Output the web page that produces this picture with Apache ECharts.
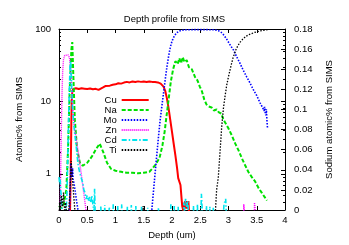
<!DOCTYPE html>
<html><head><meta charset="utf-8">
<script src="https://cdn.jsdelivr.net/npm/echarts@6/dist/echarts.min.js"></script>
<style>html,body{margin:0;padding:0;background:#fff}#c{width:349px;height:245px}</style>
</head><body><div id="c"></div>
<script>
// ---- data (depth in um, value) ----
const seriesNames = ['Cu', 'Na', 'Mo', 'Zn', 'Cd', 'Ti'];
const cu = [[0.17,0.1],[0.195,0.3],[0.205,0.8],[0.212,2],[0.218,5],[0.225,10],[0.235,13.5],[0.25,14.8],[0.3,15.2],[0.35,14.8],[0.4,15.2],[0.45,15],[0.5,14.8],[0.55,15.1],[0.6,14.7],[0.65,14.9],[0.7,14.4],[0.73,14.8],[0.78,15.6],[0.82,16.3],[0.9,16.5],[0.95,17],[1.0,17.2],[1.05,17.8],[1.1,17.6],[1.15,18.2],[1.2,18.6],[1.25,18.3],[1.3,18.8],[1.35,18.5],[1.4,18.9],[1.45,18.6],[1.5,18.8],[1.55,18.5],[1.6,18.8],[1.65,18.6],[1.7,18.5],[1.75,18.3],[1.8,17.6],[1.85,16],[1.88,14],[1.91,11],[1.94,8],[1.97,5.5],[2.0,3.8],[2.03,2.6],[2.06,1.8],[2.09,1.2],[2.11,0.87],[2.13,0.82],[2.15,0.7],[2.17,0.45],[2.18,0.36],[2.2,0.31],[2.22,0.33],[2.23,0.42],[2.24,0.33],[2.26,0.42],[2.27,0.33],[2.29,0.42],[2.3,0.31],[2.31,0.1]];
const na = [[0,0.004],[0.04,0.002],[0.08,0.005],[0.11,0.004],[0.13,0.02],[0.16,0.06],[0.19,0.12],[0.22,0.16],[0.235,0.167],[0.25,0.14],[0.28,0.09],[0.32,0.06],[0.37,0.047],[0.42,0.044],[0.5,0.047],[0.58,0.053],[0.65,0.06],[0.72,0.066],[0.78,0.058],[0.85,0.047],[0.92,0.041],[1.0,0.039],[1.1,0.038],[1.2,0.037],[1.3,0.037],[1.4,0.0365],[1.5,0.037],[1.6,0.038],[1.65,0.041],[1.72,0.046],[1.78,0.052],[1.83,0.064],[1.87,0.078],[1.9,0.092],[1.94,0.11],[1.98,0.128],[2.02,0.14],[2.06,0.148],[2.1,0.145],[2.13,0.151],[2.16,0.146],[2.19,0.152],[2.22,0.147],[2.26,0.149],[2.3,0.142],[2.35,0.14],[2.41,0.132],[2.45,0.129],[2.49,0.123],[2.53,0.118],[2.57,0.11],[2.61,0.105],[2.65,0.103],[2.7,0.102],[2.74,0.099],[2.79,0.1],[2.83,0.097],[2.87,0.096],[2.91,0.09],[2.94,0.087],[3.0,0.081],[3.06,0.074],[3.12,0.066],[3.18,0.059],[3.24,0.051],[3.29,0.045],[3.35,0.038],[3.41,0.033],[3.47,0.0285],[3.53,0.022],[3.59,0.017],[3.65,0.012],[3.68,0.0094]];
const mo = [[0,0.1],[0.17,0.1],[0.19,0.4],[0.2,0.8],[0.21,1.4],[0.22,1.1],[0.23,0.9],[0.24,1.2],[0.25,0.85],[0.27,0.7],[0.29,0.55],[0.31,0.42],[0.33,0.34],[0.35,0.25],[0.37,0.1],[1.6,0.1],[1.64,0.3],[1.67,0.55],[1.7,1],[1.73,1.8],[1.76,3.2],[1.79,5.5],[1.82,8.5],[1.85,13],[1.88,20],[1.91,30],[1.94,42],[1.97,56],[2.0,68],[2.04,80],[2.08,88],[2.12,93],[2.17,96],[2.25,97.5],[2.4,98],[2.6,98],[2.75,97.5],[2.82,95],[2.87,90],[2.92,82],[2.97,72],[3.03,60],[3.09,51],[3.14,42],[3.2,34],[3.26,27],[3.32,22],[3.38,18],[3.44,14.5],[3.5,12],[3.56,9.5],[3.6,8.3],[3.63,7.4],[3.64,8.4],[3.65,7.0],[3.66,6.4],[3.67,7.8],[3.68,5.5],[3.69,4.3]];
const zn = [[0,0.1],[0.015,0.2],[0.025,0.6],[0.035,2],[0.045,6],[0.055,14],[0.065,26],[0.08,38],[0.1,43],[0.13,45],[0.16,44],[0.185,40],[0.2,32],[0.215,20],[0.23,12],[0.25,7],[0.27,4.5],[0.3,3.2],[0.34,2],[0.38,1.2],[0.42,0.7],[0.46,0.4],[0.48,0.3],[0.5,0.1],[3.26,0.1],[3.27,0.38],[3.28,0.32],[3.29,0.1],[3.45,0.1],[3.46,0.4],[3.47,0.34],[3.48,0.1]];
const cd = [[0,0.9],[0.01,0.75],[0.02,0.85],[0.03,0.6],[0.04,0.5],[0.05,0.35],[0.07,0.3],[0.09,0.2],[0.12,0.25],[0.14,0.5],[0.16,2.5],[0.18,12],[0.195,30],[0.205,36],[0.215,28],[0.225,15],[0.24,8],[0.26,5],[0.28,3.5],[0.3,2.6],[0.32,1.8],[0.34,1.3],[0.36,1.1],[0.38,0.95],[0.4,0.9],[0.42,0.75],[0.44,0.6],[0.46,0.55],[0.48,0.45],[0.5,0.5],[0.52,0.42],[0.54,0.48],[0.56,0.4],[0.58,0.5],[0.6,0.38],[0.62,0.3],[0.63,0.62],[0.64,0.3],[0.66,0.2],[0.73,0.2],[0.74,0.36],[0.75,0.2],[0.8,0.2],[0.81,0.37],[0.82,0.2],[0.88,0.2],[0.89,0.35],[0.9,0.2],[0.95,0.2],[0.96,0.38],[0.97,0.2],[1.03,0.2],[1.04,0.36],[1.05,0.2],[1.1,0.2],[1.11,0.38],[1.12,0.2],[1.2,0.2],[1.21,0.35],[1.22,0.2],[1.27,0.2],[1.28,0.37],[1.29,0.2],[1.35,0.2],[1.36,0.36],[1.37,0.2],[1.45,0.2],[1.46,0.35],[1.47,0.2],[1.56,0.2],[1.57,0.34],[1.58,0.2],[1.75,0.2],[1.76,0.34],[1.77,0.2],[1.97,0.2],[1.98,0.38],[1.99,0.2],[2.03,0.2],[2.04,0.36],[2.05,0.2],[2.1,0.2],[2.11,0.35],[2.12,0.2],[2.2,0.2],[2.21,0.4],[2.22,0.3],[2.24,0.45],[2.26,0.35],[2.28,0.42],[2.3,0.2],[2.37,0.2],[2.38,0.36],[2.39,0.2],[2.44,0.2],[2.45,0.38],[2.46,0.2],[2.51,0.2],[2.52,0.53],[2.53,0.38],[2.55,0.2],[2.6,0.2],[2.61,0.36],[2.62,0.2],[2.66,0.2],[2.67,0.35],[2.68,0.2],[2.72,0.2],[2.73,0.34],[2.74,0.2],[2.9,0.2],[2.92,0.38],[2.95,0.45],[2.97,0.2],[3.0,0.2]];
const ti = [[0,0.1],[0.01,0.4],[0.02,0.3],[0.04,0.5],[0.06,0.35],[0.08,0.55],[0.1,0.3],[0.12,0.4],[0.14,0.2],[0.17,0.3],[0.19,0.5],[0.205,0.9],[0.215,1.5],[0.225,1.2],[0.24,0.8],[0.26,0.5],[0.28,0.32],[0.3,0.1],[1.48,0.1],[1.49,0.36],[1.5,0.1],[2.74,0.1],[2.77,0.32],[2.79,0.6],[2.82,0.9],[2.85,2],[2.88,4.5],[2.91,8],[2.94,12],[2.97,17],[3.0,22],[3.04,30],[3.08,40],[3.14,54],[3.2,65],[3.25,72],[3.3,78],[3.35,83],[3.4,86],[3.45,89],[3.5,91.5],[3.55,93.5],[3.6,95.5],[3.65,97],[3.7,98]];

// ---- tick values ----
const logMajorTicks = [1, 10, 100];
const logMinorTicks = [0.4,0.5,0.6,0.7,0.8,0.9,2,3,4,5,6,7,8,9,20,30,40,50,60,70,80,90];
const xRange = [0, 4], xStep = 0.5;
const y2Range = [0, 0.18], y2Step = 0.02;
const logRange = [0.316, 100];

const FONT = '"Liberation Sans", Arial, sans-serif';
const FS = 9.5;
const chart = echarts.init(document.getElementById('c'), null, {renderer: 'canvas'});

function logAxis(pos, ticks, len, opts) {
  return Object.assign({
    type: 'log', logBase: 10, position: pos, min: logRange[0], max: logRange[1],
    axisLine: {show: false},
    axisTick: {show: true, inside: true, length: len, customValues: ticks, lineStyle: {color: '#000', width: 1}},
    axisLabel: {show: false},
    splitLine: {show: false}
  }, opts || {});
}

const option = {
  animation: false,
  backgroundColor: '#fff',
  textStyle: {fontFamily: FONT},
  title: {text: 'Depth profile from SIMS', left: 'center', top: 9,
    textStyle: {fontSize: FS, fontWeight: 'normal', color: '#000', fontFamily: FONT}},
  grid: {left: 59, top: 29, width: 226, height: 183},
  legend: {
    data: seriesNames, orient: 'vertical', left: 103.5, top: 95, align: 'right',
    itemWidth: 27, itemHeight: 10, itemGap: 0, padding: 0,
    itemStyle: {opacity: 0},
    textStyle: {fontSize: FS, color: '#000', fontFamily: FONT, lineHeight: 10}
  },
  xAxis: [
    {type: 'value', position: 'bottom', min: xRange[0], max: xRange[1], interval: xStep,
      name: 'Depth (um)', nameLocation: 'middle', nameGap: 20,
      nameTextStyle: {fontSize: FS, color: '#000', fontFamily: FONT},
      axisLine: {show: true, lineStyle: {color: '#000', width: 1}},
      axisTick: {show: true, inside: true, length: 4, lineStyle: {color: '#000'}},
      axisLabel: {fontSize: FS, color: '#000', margin: 5, fontFamily: FONT},
      splitLine: {show: false}},
    {type: 'value', position: 'top', min: xRange[0], max: xRange[1], interval: xStep,
      axisLine: {show: true, lineStyle: {color: '#000', width: 1}},
      axisTick: {show: true, inside: true, length: 4, lineStyle: {color: '#000'}},
      axisLabel: {show: false}, splitLine: {show: false}}
  ],
  yAxis: [
    logAxis('left', logMajorTicks, 4, {
      axisLine: {show: true, lineStyle: {color: '#000', width: 1}},
      axisLabel: {show: true, customValues: logMajorTicks, fontSize: FS, color: '#000', margin: 8, fontFamily: FONT},
      name: 'Atomic% from SIMS', nameLocation: 'middle', nameRotate: 90, nameGap: 33,
      nameTextStyle: {fontSize: FS, color: '#000', fontFamily: FONT}
    }),
    logAxis('left', logMinorTicks, 2),
    {type: 'value', position: 'right', min: y2Range[0], max: y2Range[1], interval: y2Step,
      name: 'Sodium atomic% from SIMS', nameLocation: 'middle', nameRotate: 90, nameGap: 39,
      nameTextStyle: {fontSize: FS, color: '#000', fontFamily: FONT},
      axisLine: {show: true, lineStyle: {color: '#000', width: 1}},
      axisTick: {show: true, inside: true, length: 4, lineStyle: {color: '#000'}},
      axisLabel: {fontSize: FS, color: '#000', margin: 9, fontFamily: FONT},
      splitLine: {show: false}},
    logAxis('right', logMajorTicks, 4),
    logAxis('right', logMinorTicks, 2)
  ],
  series: [
    {name: 'Cu', type: 'line', data: cu, yAxisIndex: 0, symbol: 'none', color: '#ff0000',
      lineStyle: {color: '#ff0000', width: 2, type: 'solid'}},
    {name: 'Na', type: 'line', data: na, yAxisIndex: 2, symbol: 'none', color: '#00e000',
      lineStyle: {color: '#00e000', width: 2, type: [4, 2]}},
    {name: 'Mo', type: 'line', data: mo, yAxisIndex: 0, symbol: 'none', color: '#0000ff',
      lineStyle: {color: '#0000ff', width: 1.6, type: [1.5, 1.5]}},
    {name: 'Zn', type: 'line', data: zn, yAxisIndex: 0, symbol: 'none', color: '#ff00ff',
      lineStyle: {color: '#ff00ff', width: 1.4, type: [1, 1]}},
    {name: 'Cd', type: 'line', data: cd, yAxisIndex: 0, symbol: 'none', color: '#00ffff',
      lineStyle: {color: '#00e5ee', width: 1.6, type: [5, 2, 1.5, 2]}},
    {name: 'Ti', type: 'line', data: ti, yAxisIndex: 0, symbol: 'none', color: '#000000',
      lineStyle: {color: '#000000', width: 1.3, type: [1.5, 1.5]}}
  ]
};
chart.setOption(option);
</script></body></html>
